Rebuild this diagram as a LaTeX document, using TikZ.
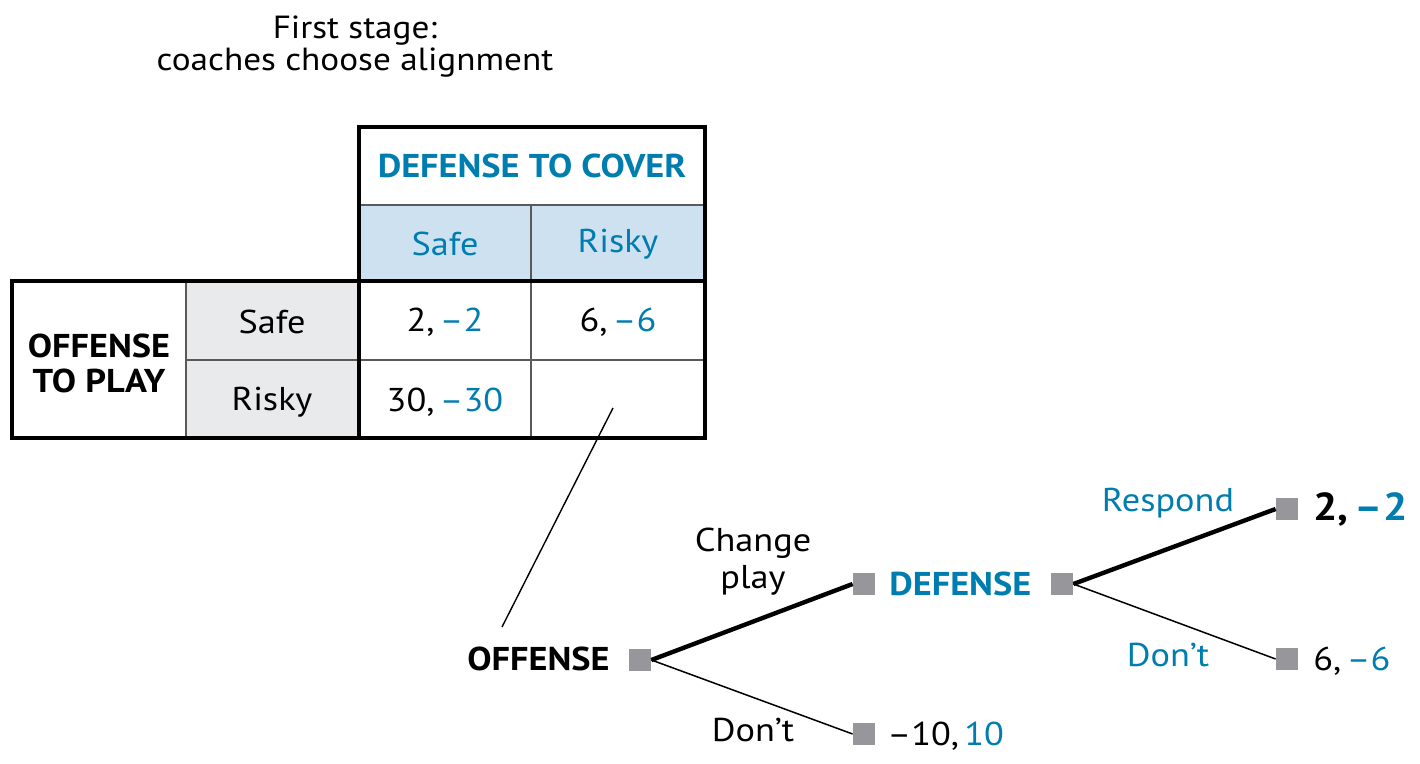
\documentclass[tikz,border=0pt]{standalone}
\usepackage{fontspec}
\setmainfont{PT Sans}[FakeStretch=1.1]
\definecolor{blu}{RGB}{0,125,175}
\definecolor{hdrfill}{RGB}{206,225,240}
\definecolor{rowfill}{RGB}{233,234,236}
\definecolor{sq}{RGB}{150,150,155}
\definecolor{grid}{RGB}{90,90,90}
\newcommand{\pay}[2]{#1,\kern0.16em\textcolor{blu}{#2}}
\tikzset{
  txt/.style={font=\fontsize{16.5}{19}\selectfont, inner sep=0pt},
  btxt/.style={font=\fontsize{16.5}{19}\selectfont\bfseries, inner sep=0pt},
  sqnode/.style={fill=sq, minimum size=11pt, inner sep=0pt},
  thickedge/.style={line width=2.2pt},
  thinedge/.style={line width=0.75pt},
  frame/.style={line width=2pt, draw=black},
  gridline/.style={line width=0.7pt, draw=grid},
}
\begin{document}
\begin{tikzpicture}[x=0.5pt,y=-0.5pt]
\useasboundingbox (0,0) rectangle (1420,764);
% title
\node[txt, align=center, font=\fontsize{16}{16}\selectfont] (title) at (355,47) {First stage:\\coaches choose alignment};
% table fills
\fill[hdrfill] (359,205) rectangle (705,281);
\fill[rowfill] (186,281) rectangle (359,438);
% grid lines
\draw[gridline] (359,205) -- (705,205);
\draw[gridline] (531,205) -- (531,438);
\draw[gridline] (186,281) -- (186,438);
\draw[gridline] (186,360) -- (705,360);
% thick frames
\draw[frame] (359,438) -- (359,127) -- (705,127) -- (705,438);
\draw[frame] (12,281) rectangle (705,438);
% table text
\node[btxt, text=blu] (hdr) at (532,166) {DEFENSE TO COVER};
\node[txt, text=blu] (csafe) at (445,244) {Safe};
\node[txt, text=blu] (crisky) at (618,244) {Risky};
\node[btxt, align=center, font=\fontsize{16.5}{17.5}\selectfont\bfseries] (op) at (99,363) {OFFENSE\\TO PLAY};
\node[txt] (rsafe) at (272,322) {Safe};
\node[txt] (rrisky) at (272,402) {Risky};
\node[txt] (c11) at (445,322) {\pay{2}{–2}};
\node[txt] (c12) at (618,322) {\pay{6}{–6}};
\node[txt] (c21) at (445,402) {\pay{30}{–30}};
\coordinate (c22) at (613,408);
% tree nodes
\node[sqnode] (o) at (640,660) {};
\node[sqnode] (d) at (864,584) {};
\node[sqnode] (d2) at (1062,584) {};
\node[sqnode] (t1) at (1287,509) {};
\node[sqnode] (t2) at (1287,659) {};
\node[sqnode] (t3) at (864,734) {};
\node[btxt, anchor=east] (olab) at (610,659) {OFFENSE};
\node[btxt, anchor=west, text=blu] (dlab) at (889,584) {DEFENSE};
\node[btxt, anchor=west, font=\fontsize{19.5}{22}\selectfont\bfseries] (p1) at (1313,509) {\pay{2}{–2}};
\node[txt, anchor=west] (p2) at (1313,661) {\pay{6}{–6}};
\node[txt, anchor=west] (p3) at (887,736) {\pay{–10}{10}};
% edges
\draw[thickedge] (o.east) -- (d.west);
\draw[thinedge] (o.east) -- (t3.west);
\draw[thickedge] (d2.east) -- (t1.west);
\draw[thinedge] (d2.east) -- (t2.west);
% edge labels
\node[txt, align=center, font=\fontsize{16.5}{18.5}\selectfont] (lchange) at (753,562) {Change\\play};
\node[txt] (ldont1) at (753,730) {Don’t};
\node[txt, text=blu] (lresp) at (1168,503) {Respond};
\node[txt, text=blu] (ldont2) at (1168,655) {Don’t};
% connector table -> tree
\coordinate (oc) at (502,627);
\draw[line width=0.7pt] (c22) -- (oc);
\end{tikzpicture}
\end{document}
